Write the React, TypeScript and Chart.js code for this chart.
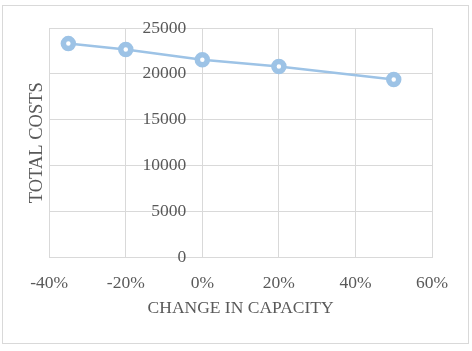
import React, { useEffect, useRef } from "react";
import { Chart, registerables } from "chart.js";

Chart.register(...registerables);

const capacityChange = [-35, -20, 0, 20, 50];
const totalCosts = [23300, 22650, 21550, 20800, 19400];
const xTitle = "CHANGE IN CAPACITY";
const yTitle = "TOTAL COSTS";

const FONT = '"Liberation Serif", "Times New Roman", serif';
const TEXT = "#595959";
const GRID = "#d9d9d9";
const BLUE = "#9dc3e6";

export default function App() {
  const ref = useRef<HTMLCanvasElement | null>(null);
  useEffect(() => {
    if (!ref.current) return;
    const chart = new Chart(ref.current, {
      type: "line",
      data: {
        datasets: [
          {
            data: capacityChange.map((x, i) => ({ x, y: totalCosts[i] })),
            borderColor: BLUE,
            borderWidth: 2.5,
            pointRadius: 5,
            pointBorderWidth: 5.5,
            pointBackgroundColor: "#ffffff",
            pointBorderColor: BLUE,
            tension: 0,
            fill: false,
          },
        ],
      },
      options: {
        animation: false,
        responsive: false,
        maintainAspectRatio: false,
        layout: { padding: { left: 23, right: 40, top: 28, bottom: 32 } },
        plugins: { legend: { display: false }, tooltip: { enabled: false } },
        font: { family: FONT, size: 17.5 },
        scales: {
          x: {
            type: "linear",
            position: "bottom",
            min: -40,
            max: 60,
            grid: { color: GRID, drawTicks: false },
            border: { color: GRID },
            ticks: {
              stepSize: 20,
              padding: 15,
              color: TEXT,
              font: { family: FONT, size: 17.5 },
              callback: (v: any) => `${v}%`,
              maxRotation: 0,
            },
            title: {
              display: true,
              text: xTitle,
              color: TEXT,
              font: { family: FONT, size: 17.5 },
              padding: { top: -10.5, bottom: 0 },
            },
          },
          y: {
            type: "linear",
            position: { x: -4.2 } as any,
            min: 0,
            max: 25000,
            grid: { color: GRID, drawTicks: false },
            border: { display: false },
            ticks: {
              stepSize: 5000,
              padding: 0,
              color: TEXT,
              font: { family: FONT, size: 17.5 },
              callback: (v: any) => String(v),
            },
          },
          yTitle: {
            type: "linear",
            position: "left",
            min: 0,
            max: 25000,
            grid: { display: false, drawTicks: false },
            border: { display: false },
            ticks: { display: false },
            title: {
              display: true,
              text: yTitle,
              color: TEXT,
              font: { family: FONT, size: 18.5 },
              padding: { top: 3, bottom: 1 },
            },
          },
        },
      } as any,
    });
    return () => chart.destroy();
  }, []);

  return (
    <div style={{ position: "fixed", left: 0, top: 0, width: 472, height: 351, background: "#fff" }}>
      <div
        style={{
          position: "absolute",
          left: 2,
          top: 5,
          width: 465,
          height: 337,
          border: `1px solid ${GRID}`,
        }}
      />
      <canvas ref={ref} width={472} height={351} style={{ position: "absolute", left: 0, top: 0 }} />
    </div>
  );
}
